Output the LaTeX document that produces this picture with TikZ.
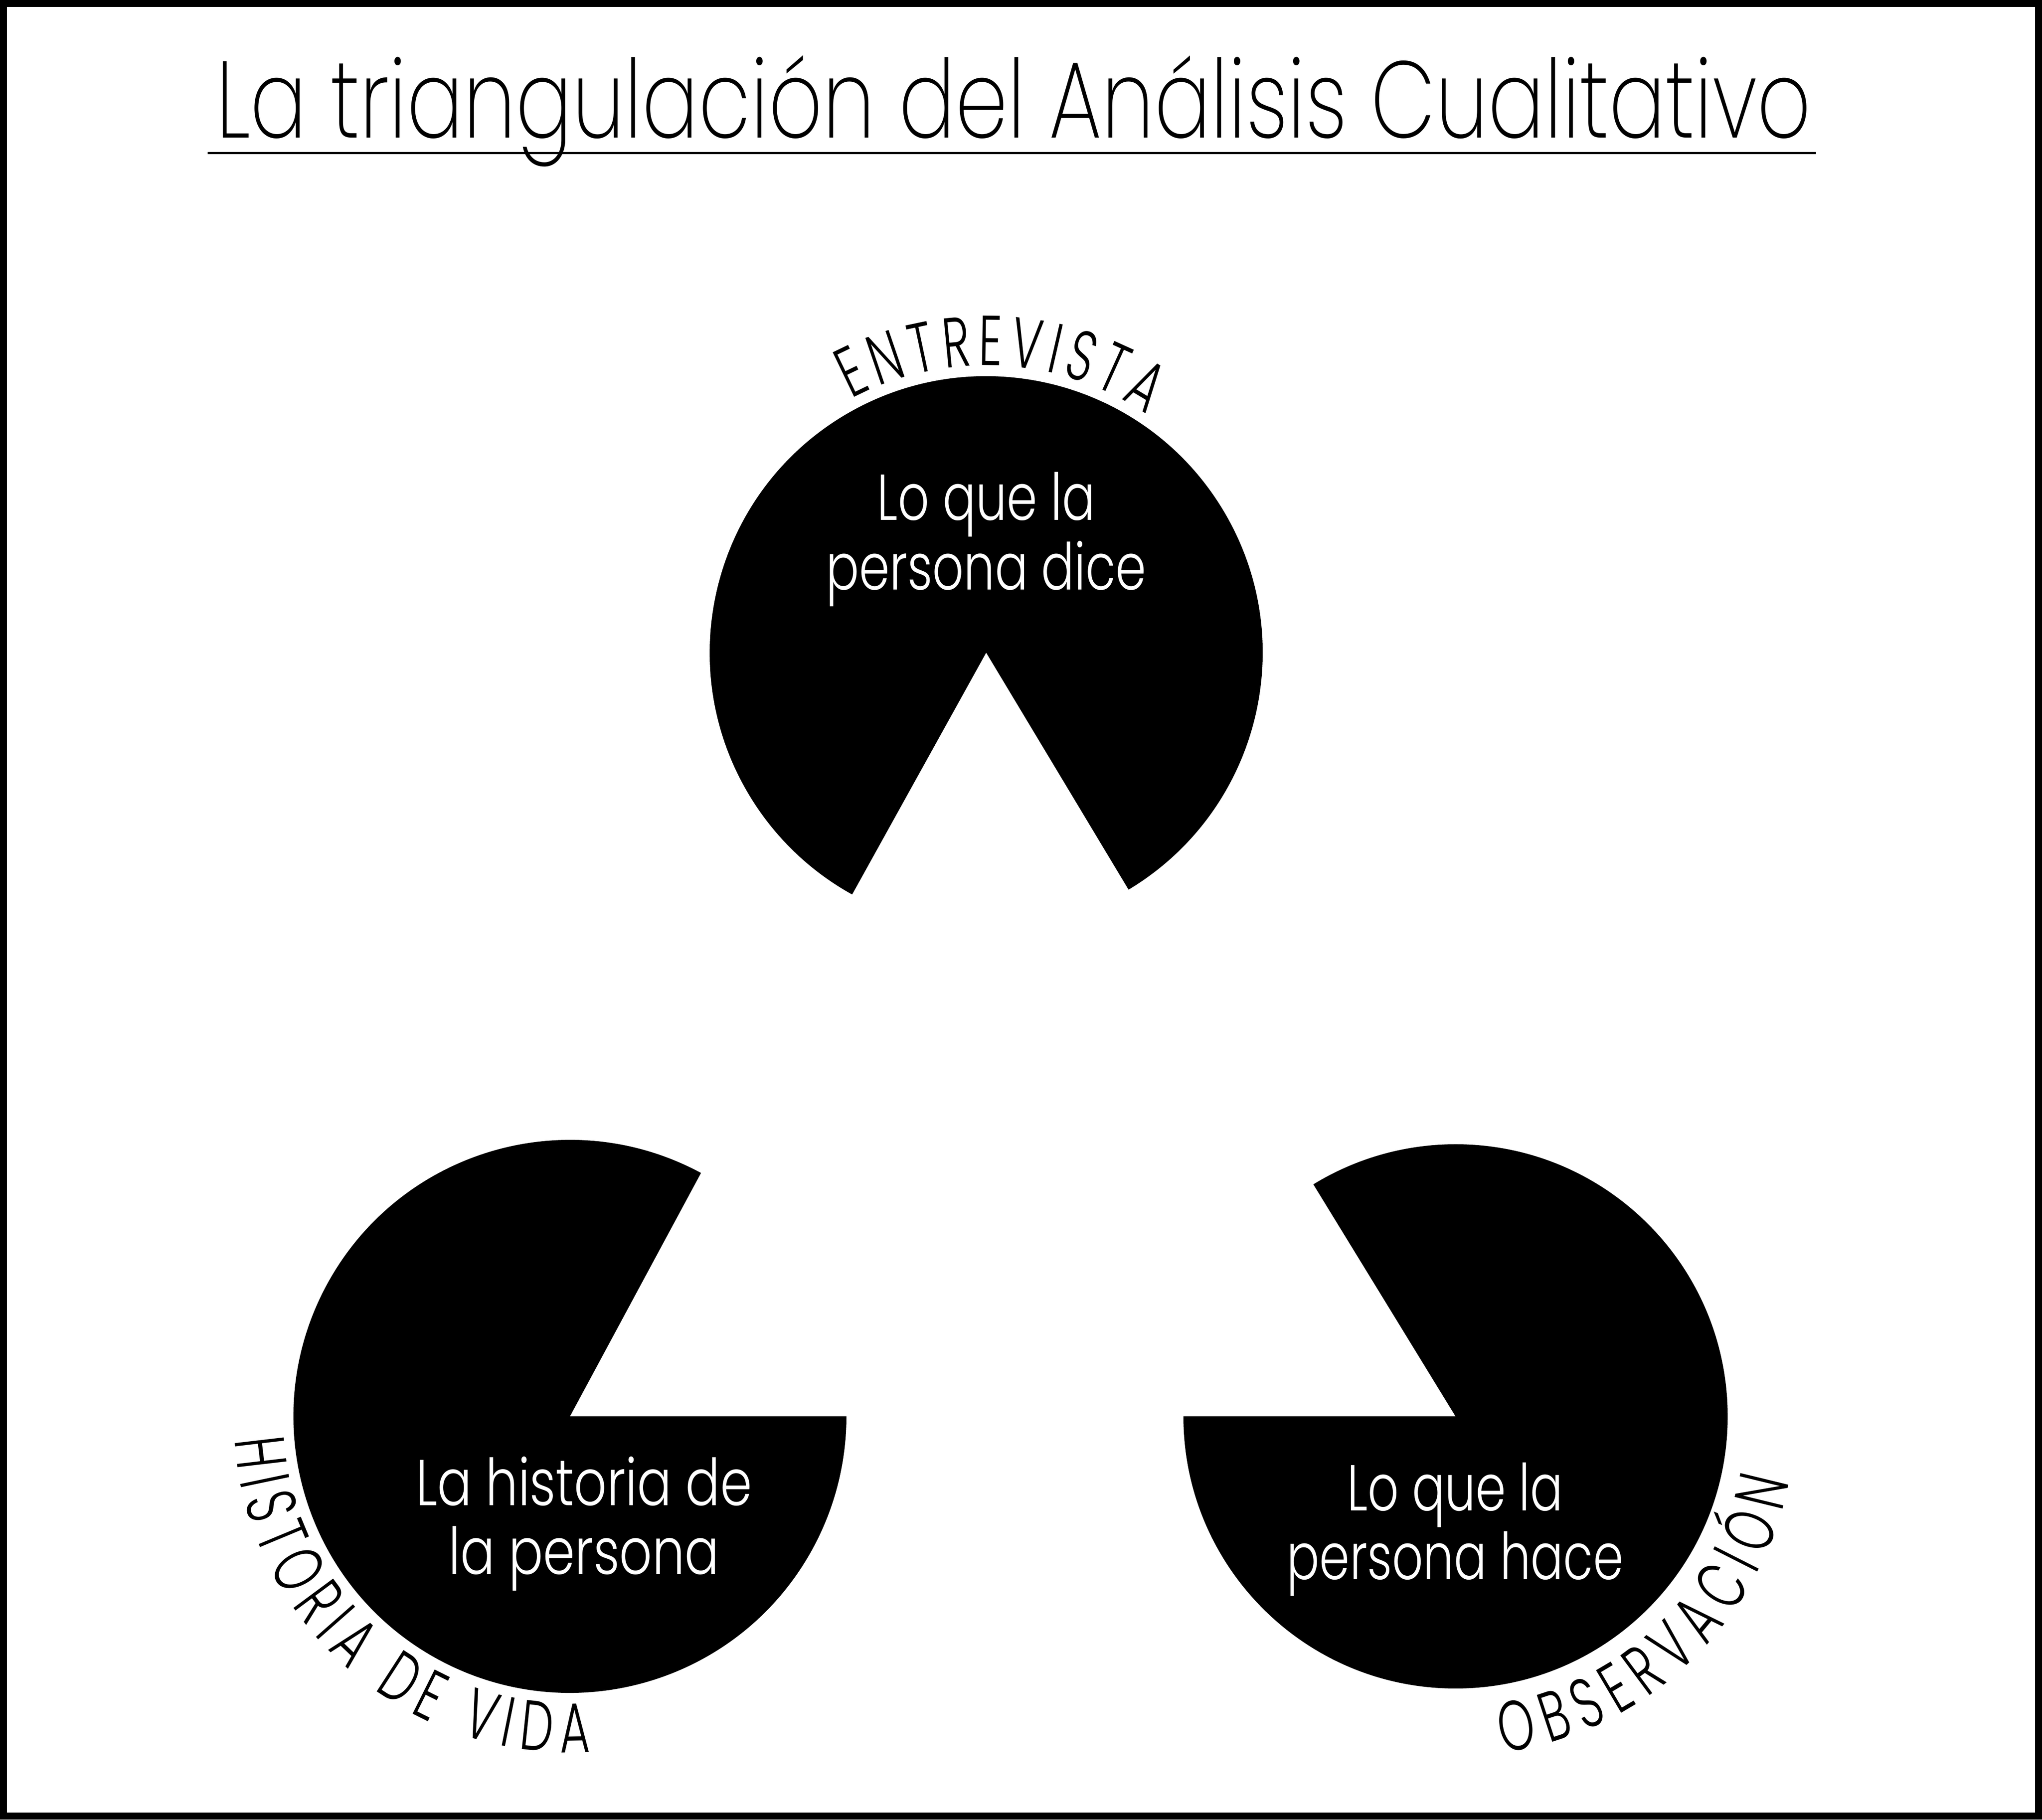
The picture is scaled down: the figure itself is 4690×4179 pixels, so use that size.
\documentclass[tikz,border=0pt]{standalone}
\usepackage{fontspec}
\setmainfont{Poppins}[UprightFont=* Light]
\newfontfamily\titlefont{Poppins}[UprightFont=* ExtraLight]
\newfontfamily\arcfont{Poppins}[UprightFont=* Light, FakeStretch=0.66]
\usetikzlibrary{decorations.text,calc}
\begin{document}
\begin{tikzpicture}[x=1pt,y=1pt,
  pie/.style={fill=black,draw=none},
  innertext/.style={text=white,inner sep=0pt,anchor=base},
  arclabel/.style={decorate,decoration={text along path,text align={fit to path},
    text={|\arcfont\fontsize{162}{162}\selectfont|#1}}}]
\useasboundingbox (0,0) rectangle (4690,4179);
\fill[white] (0,0) rectangle (4690,4179);
\draw[line width=16pt] (8,8) rectangle (4682,4171);

% title
\node[inner sep=0pt,anchor=base] (title) at (2328,3862)
  {\resizebox{3664pt}{\height}{\titlefont\fontsize{250}{250}\selectfont La triangulación del Análisis Cualitativo}};
\coordinate (ulA) at (477,3827.5);
\coordinate (ulB) at (4171,3827.5);
\draw[line width=5pt] (ulA) -- (ulB);

% centres
\coordinate (c1) at (2265,2680);
\coordinate (c2) at (1309,926);
\coordinate (c3) at (3343,926);

% pies
\fill[pie] (c1) -- ++(301:635) arc[start angle=301,end angle=601,radius=635] -- cycle;
\fill[pie] (c2) -- ++(61.7:635) arc[start angle=61.7,end angle=360,radius=635] -- cycle;
\fill[pie] (c3) -- ++(180:625) arc[start angle=180,end angle=481.5,radius=625] -- cycle;

% inner texts
\node[innertext] (t1) at (2265,2984)
  {\resizebox{735pt}{\height}{\fontsize{149}{157}\selectfont\begin{tabular}[t]{@{}c@{}}Lo que la\\persona dice\end{tabular}}};
\node[innertext] (t2) at (1341,721)
  {\resizebox{772pt}{\height}{\fontsize{149}{157}\selectfont\begin{tabular}[t]{@{}c@{}}La historia de\\la persona\end{tabular}}};
\node[innertext] (t3) at (3342,709)
  {\resizebox{773pt}{\height}{\fontsize{149}{157}\selectfont\begin{tabular}[t]{@{}c@{}}Lo que la\\persona hace\end{tabular}}};

% curved labels
\path[arclabel={ENTREVISTA}] ($(c1)+(118:660)$) arc[start angle=118,end angle=56,radius=660];
\path[arclabel={HISTORIA DE VIDA}] ($(c2)+(184:772)$) arc[start angle=184,end angle=273.5,radius=772];
\path[arclabel={OBSERVACIÓN}] ($(c3)+(278:780)$) arc[start angle=278,end angle=349,radius=780];
\end{tikzpicture}
\end{document}
